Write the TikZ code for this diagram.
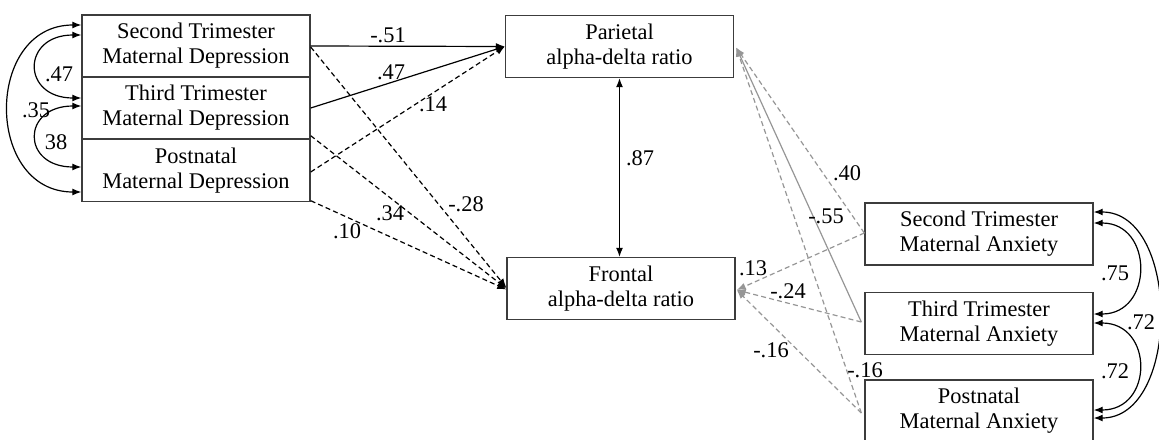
\documentclass[tikz,border=0pt]{standalone}
\usepackage{fontspec}
\setmainfont{Liberation Serif}
\usetikzlibrary{arrows.meta,calc}
\definecolor{lgray}{RGB}{150,150,150}
\definecolor{bord}{RGB}{60,60,60}
\begin{document}
\begin{tikzpicture}[x=0.5pt,y=-0.5pt,
  box/.style={draw=bord, line width=0.7pt, minimum width=114pt, minimum height=31pt, inner sep=0pt, align=center, font=\fontsize{11.2}{12.5}\selectfont},
  lbl/.style={inner sep=0pt, font=\fontsize{11.2}{12.5}\selectfont},
  arr/.style={line width=0.6pt, -{Latex[length=4.5pt,width=3.5pt]}},
  darr/.style={arr, dash pattern=on 2.5pt off 1.6pt},
  garr/.style={arr, draw=lgray},
  gdarr/.style={darr, draw=lgray},
  cov/.style={line width=0.6pt, {Latex[length=4.5pt,width=3.5pt]}-{Latex[length=4.5pt,width=3.5pt]}}
]
\useasboundingbox (0,0) rectangle (1159,439);

% nodes
\node[box] (d1) at (196,46) {Second Trimester\\Maternal Depression};
\node[box] (d2) at (196,108) {Third Trimester\\Maternal Depression};
\node[box] (d3) at (196,170.5) {Postnatal\\Maternal Depression};
\node[box] (p) at (619.5,46.5) {Parietal\\alpha-delta ratio};
\node[box] (f) at (621,288.5) {Frontal\\alpha-delta ratio};
\node[box] (a1) at (979,234) {Second Trimester\\Maternal Anxiety};
\node[box] (a2) at (979,323.5) {Third Trimester\\Maternal Anxiety};
\node[box] (a3) at (979,411) {Postnatal\\Maternal Anxiety};

% depression -> parietal
\draw[arr] (d1.east) -- (p.west);
\draw[arr] (d2.east) -- (p.west);
\draw[darr] ($(d3.east)+(0,1.5)$) -- (p.west);
% depression -> frontal
\draw[darr] ($(d1.east)+(0,1)$) -- ($(f.west)+(0,-1)$);
\draw[darr] ($(d2.south east)+(0,-4)$) -- (f.west);
\draw[darr] ($(d3.south east)+(0,-1.5)$) -- ($(f.west)+(0,1)$);

% parietal <-> frontal
\draw[cov] (p.south) -- (p.south |- f.north);

% anxiety -> parietal
\draw[gdarr] ($(a1.west)+(0,-1)$) -- ($(p.east)+(2,1)$);
\draw[garr] ($(a2.west)+(-3,-1.5)$) -- ($(p.east)+(2,1)$);
\draw[gdarr] ($(a3.west)+(-3,2)$) -- ($(p.east)+(2,1)$);
% anxiety -> frontal
\draw[gdarr] ($(a1.west)+(0,-1)$) -- ($(f.east)+(1,1.5)$);
\draw[gdarr] ($(a2.west)+(-3,-1.5)$) -- ($(f.east)+(1,1.5)$);
\draw[gdarr] ($(a3.west)+(-3,2)$) -- ($(f.east)+(1,1.5)$);

% covariances left
\draw[cov] ($(d1.west)+(0,-11)$) .. controls +(-60,0) and +(-60,0) .. ($(d2.west)+(0,-10)$);
\draw[cov] ($(d2.west)+(0,-2)$) .. controls +(-60,0) and +(-60,0) .. ($(d3.west)+(0,-3.5)$);
\draw[cov] ($(d1.west)+(0,-21)$) .. controls +(-97,0) and +(-97,0) .. ($(d3.west)+(0,21.5)$);
% covariances right
\draw[cov] ($(a1.east)+(0,-11)$) .. controls +(60,0) and +(60,0) .. ($(a2.east)+(0,-9.5)$);
\draw[cov] ($(a2.east)+(0,-0.5)$) .. controls +(60,0) and +(60,0) .. ($(a3.east)+(0,-1)$);
\draw[cov] ($(a1.east)+(0,-22)$) .. controls +(87,0) and +(87,0) .. ($(a3.east)+(0,7)$);

% labels
\node[lbl] (l1) at (388,35) {-.51};
\node[lbl] (l2) at (391,72) {.47};
\node[lbl] (l3) at (433,104) {.14};
\node[lbl] (l4) at (466,204) {-.28};
\node[lbl] (l5) at (390,213) {.34};
\node[lbl] (l6) at (347,231) {.10};
\node[lbl] (l7) at (640,158) {.87};
\node[lbl] (l8) at (847,173) {.40};
\node[lbl] (l9) at (826,216) {-.55};
\node[lbl] (l10) at (753,268) {.13};
\node[lbl] (l11) at (788,291) {-.24};
\node[lbl] (l12) at (771,350) {-.16};
\node[lbl] (l13) at (865,370) {-.16};
\node[lbl] (l14) at (1115,273) {.75};
\node[lbl] (l15) at (1115,371) {.72};
\node[lbl] (l16) at (1141,322) {.72};
\node[lbl] (l17) at (59,74) {.47};
\node[lbl] (l18) at (36,110) {.35};
\node[lbl] (l19) at (56,142) {38};
\end{tikzpicture}
\end{document}
